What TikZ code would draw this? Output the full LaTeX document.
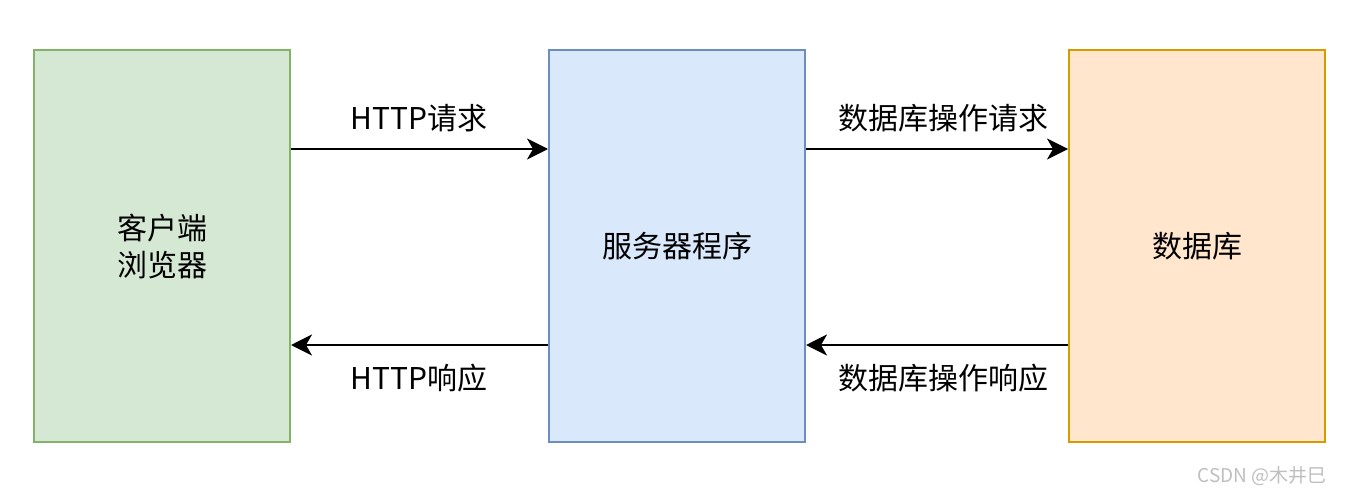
\documentclass[tikz,border=0pt]{standalone}
\usepackage{fontspec}
\setmainfont{Noto Sans CJK SC}
\usetikzlibrary{arrows.meta}
\tikzset{
  box/.style={draw, line width=2pt, minimum width=256pt, minimum height=392pt, inner sep=0pt, align=center, font=\fontsize{30}{37}\selectfont},
  conn/.style={line width=2.4pt, -{Stealth[length=21pt,width=21pt,inset=6pt]}},
  lbl/.style={font=\fontsize{30}{34}\selectfont, inner sep=0pt}
}
\definecolor{gfill}{HTML}{D5E8D4}\definecolor{gline}{HTML}{82B366}
\definecolor{bfill}{HTML}{DAE8FC}\definecolor{bline}{HTML}{6C8EBF}
\definecolor{ofill}{HTML}{FFE6CC}\definecolor{oline}{HTML}{D79B00}
\begin{document}
\begin{tikzpicture}[x=1pt,y=-1pt]
\useasboundingbox[fill=white] (0,0) rectangle (1356,500);
\node[box, fill=gfill, draw=gline] (client) at (162,246) {客户端\\浏览器};
\node[box, fill=bfill, draw=bline] (server) at (677,246) {服务器程序};
\node[box, fill=ofill, draw=oline] (db) at (1197,246) {数据库};
\coordinate (c1) at (client.east |- 0,149);
\coordinate (s1) at (server.west |- 0,149);
\coordinate (s2) at (server.east |- 0,149);
\coordinate (d1) at (db.west |- 0,149);
\coordinate (c2) at (client.east |- 0,345);
\coordinate (s3) at (server.west |- 0,345);
\coordinate (s4) at (server.east |- 0,345);
\coordinate (d2) at (db.west |- 0,345);
\draw[conn] (c1) -- (s1);
\draw[conn] (s2) -- (d1);
\draw[conn] (s3) -- (c2);
\draw[conn] (d2) -- (s4);
\node[lbl] (l1) at (419,118) {HTTP请求};
\node[lbl] (l2) at (943,118) {数据库操作请求};
\node[lbl] (l3) at (419,378) {HTTP响应};
\node[lbl] (l4) at (943,378) {数据库操作响应};
\node[font=\fontsize{19}{23}\selectfont, text=black!25, inner sep=0pt] (wm) at (1262,476) {CSDN @木井巳};
\end{tikzpicture}
\end{document}
